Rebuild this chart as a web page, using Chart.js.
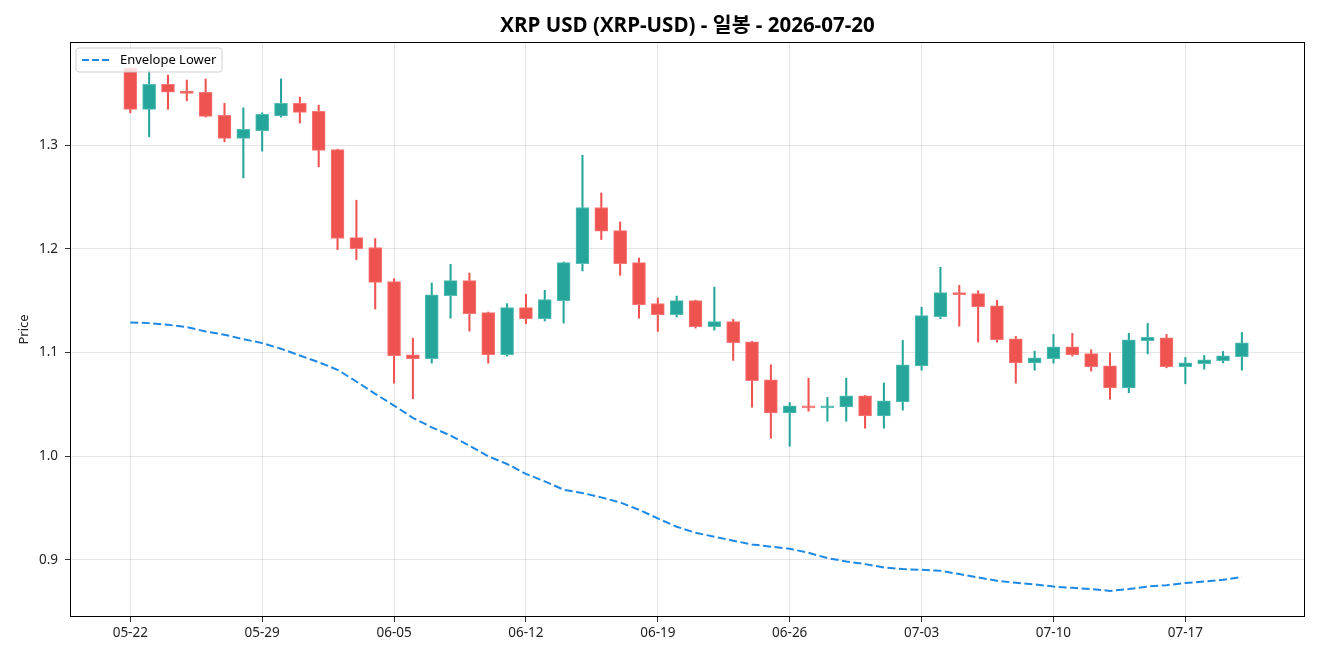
<!DOCTYPE html>
<html>
<head>
<meta charset="utf-8">
<script src="https://cdn.jsdelivr.net/npm/chart.js@4.4.1/dist/chart.umd.min.js"></script>
<style>
  html, body { margin: 0; padding: 0; background: #ffffff; }
  #wrap { width: 1320px; height: 660px; }
</style>
</head>
<body>
<div id="wrap"><canvas id="c" width="1320" height="660"></canvas></div>
<script>
const dates = [
  '05-22','05-23','05-24','05-25','05-26','05-27','05-28','05-29','05-30','05-31',
  '06-01','06-02','06-03','06-04','06-05','06-06','06-07','06-08','06-09','06-10',
  '06-11','06-12','06-13','06-14','06-15','06-16','06-17','06-18','06-19','06-20',
  '06-21','06-22','06-23','06-24','06-25','06-26','06-27','06-28','06-29','06-30',
  '07-01','07-02','07-03','07-04','07-05','07-06','07-07','07-08','07-09','07-10',
  '07-11','07-12','07-13','07-14','07-15','07-16','07-17','07-18','07-19','07-20'
];
const openP = [
  1.3743,1.3345,1.3586,1.3522,1.3510,1.3287,1.3065,1.3139,1.3283,1.3403,
  1.3326,1.2958,1.2108,1.2012,1.1683,1.0978,1.0939,1.1548,1.1693,1.1384,
  1.0978,1.1432,1.1326,1.1500,1.1857,1.2398,1.2176,1.1867,1.1471,1.1364,
  1.1500,1.1249,1.1297,1.1103,1.0736,1.0417,1.0485,1.0466,1.0475,1.0581,
  1.0388,1.0523,1.0871,1.1345,1.1577,1.1567,1.1451,1.1132,1.0900,1.0939,
  1.1055,1.0988,1.0871,1.0659,1.1113,1.1142,1.0862,1.0891,1.0920,1.0959
];
const highP = [
  1.3743,1.3725,1.3676,1.3628,1.3638,1.3403,1.3360,1.3312,1.3638,1.3464,
  1.3386,1.2962,1.2469,1.2099,1.1712,1.1138,1.1670,1.1850,1.1766,1.1390,
  1.1471,1.1560,1.1599,1.1873,1.2903,1.2539,1.2259,1.1911,1.1525,1.1544,
  1.1505,1.1631,1.1319,1.1107,1.0881,1.0517,1.0752,1.0568,1.0752,1.0585,
  1.0705,1.1116,1.1435,1.1821,1.1647,1.1596,1.1502,1.1155,1.1013,1.1174,
  1.1184,1.1026,1.0997,1.1184,1.1280,1.1174,1.0952,1.0971,1.1010,1.1193
];
const lowP = [
  1.3312,1.3080,1.3345,1.3428,1.3270,1.3032,1.2684,1.2942,1.3270,1.3213,
  1.2790,1.1992,1.1896,1.1419,1.0704,1.0553,1.0897,1.1331,1.1206,1.0897,
  1.0964,1.1277,1.1303,1.1283,1.1786,1.2089,1.1744,1.1331,1.1203,1.1341,
  1.1235,1.1216,1.0923,1.0472,1.0172,1.0095,1.0433,1.0336,1.0336,1.0269,
  1.0269,1.0443,1.0829,1.1326,1.1254,1.1100,1.1100,1.0704,1.0829,1.0897,
  1.0965,1.0820,1.0549,1.0611,1.0987,1.0852,1.0698,1.0839,1.0900,1.0829
];
const closeP = [
  1.3345,1.3586,1.3510,1.3500,1.3277,1.3065,1.3152,1.3297,1.3403,1.3316,
  1.2949,1.2099,1.2002,1.1676,1.0968,1.0939,1.1557,1.1693,1.1374,1.0978,
  1.1432,1.1326,1.1509,1.1867,1.2398,1.2169,1.1857,1.1461,1.1364,1.1500,
  1.1249,1.1297,1.1094,1.0727,1.0417,1.0485,1.0466,1.0485,1.0581,1.0388,
  1.0533,1.0881,1.1355,1.1577,1.1558,1.1442,1.1123,1.0900,1.0949,1.1055,
  1.0978,1.0862,1.0659,1.1123,1.1145,1.0862,1.0900,1.0930,1.0968,1.1094
];
const envelopeLower = [
  1.1290,1.1283,1.1267,1.1244,1.1203,1.1171,1.1129,1.1090,1.1036,1.0971,
  1.0906,1.0833,1.0720,1.0601,1.0488,1.0369,1.0278,1.0198,1.0101,0.9998,
  0.9924,0.9828,0.9757,0.9676,0.9644,0.9602,0.9553,0.9483,0.9399,0.9319,
  0.9261,0.9222,0.9184,0.9148,0.9126,0.9106,0.9068,0.9016,0.8984,0.8958,
  0.8926,0.8910,0.8903,0.8894,0.8862,0.8830,0.8797,0.8778,0.8762,0.8742,
  0.8729,0.8717,0.8700,0.8717,0.8742,0.8755,0.8775,0.8790,0.8807,0.8833
];
const xTickIdx = [0, 7, 14, 21, 28, 35, 42, 49, 56];
const yTicks = [0.9, 1.0, 1.1, 1.2, 1.3];
const titleText = 'XRP USD (XRP-USD) - 일봉 - 2026-07-20';
const yAxisLabel = 'Price';
const seriesLabel = 'Envelope Lower';

const UP = '#26a69a', DOWN = '#ef5350';
const FONT = "'Noto Sans', 'Noto Sans CJK KR', 'DejaVu Sans', sans-serif";
const TITLE_FONT = "'Open Sans', 'Noto Sans CJK KR', 'DejaVu Sans', sans-serif";

const isUp = dates.map((d, i) => closeP[i] >= openP[i]);
const bodyData = dates.map((d, i) => ({ x: i, y: [openP[i], closeP[i]] }));
const wickData = dates.map((d, i) => ({ x: i, y: [lowP[i], highP[i]] }));
const envData = dates.map((d, i) => ({ x: i, y: envelopeLower[i] }));
const bodyColors = isUp.map(u => u ? 'rgba(38,166,154,1)' : 'rgba(239,83,80,1)');
const bodyBorders = isUp.map(u => u ? 'rgba(84,190,180,1)' : 'rgba(245,120,118,1)');
const wickColors = isUp.map(u => u ? UP : DOWN);

const decoPlugin = {
  id: 'deco',
  beforeDraw(chart) {
    const ctx = chart.ctx;
    ctx.save();
    ctx.fillStyle = '#ffffff';
    ctx.fillRect(0, 0, chart.width, chart.height);
    ctx.restore();
  },
  afterDraw(chart) {
    const ctx = chart.ctx;
    const a = chart.chartArea;
    ctx.save();
    // frame
    ctx.strokeStyle = '#000000';
    ctx.lineWidth = 1;
    ctx.strokeRect(Math.round(a.left) + 0.5, Math.round(a.top) + 0.5,
                   Math.round(a.right - a.left) - 1, Math.round(a.bottom - a.top) - 1);
    // title
    ctx.fillStyle = '#000000';
    ctx.font = 'bold 20.5px ' + TITLE_FONT;
    ctx.textAlign = 'center';
    ctx.textBaseline = 'middle';
    ctx.fillText(titleText, (a.left + a.right) / 2, 26);
    // legend
    const lx = a.left + 6, ly = a.top + 6, lw = 146, lh = 24, r = 3;
    ctx.beginPath();
    ctx.moveTo(lx + r, ly);
    ctx.lineTo(lx + lw - r, ly);
    ctx.quadraticCurveTo(lx + lw, ly, lx + lw, ly + r);
    ctx.lineTo(lx + lw, ly + lh - r);
    ctx.quadraticCurveTo(lx + lw, ly + lh, lx + lw - r, ly + lh);
    ctx.lineTo(lx + r, ly + lh);
    ctx.quadraticCurveTo(lx, ly + lh, lx, ly + lh - r);
    ctx.lineTo(lx, ly + r);
    ctx.quadraticCurveTo(lx, ly, lx + r, ly);
    ctx.closePath();
    ctx.fillStyle = 'rgba(255,255,255,0.8)';
    ctx.fill();
    ctx.strokeStyle = 'rgba(204,204,204,0.9)';
    ctx.lineWidth = 1;
    ctx.stroke();
    ctx.beginPath();
    ctx.setLineDash([7, 3]);
    ctx.strokeStyle = '#1e88e5';
    ctx.lineWidth = 2;
    ctx.moveTo(lx + 6, ly + lh / 2);
    ctx.lineTo(lx + 34, ly + lh / 2);
    ctx.stroke();
    ctx.setLineDash([]);
    ctx.fillStyle = '#000000';
    ctx.font = '13px ' + FONT;
    ctx.textAlign = 'left';
    ctx.textBaseline = 'middle';
    ctx.fillText(seriesLabel, lx + 44, ly + lh / 2 + 0.5);
    ctx.restore();
  }
};

new Chart(document.getElementById('c'), {
  type: 'bar',
  data: {
    datasets: [
      {
        type: 'line',
        label: seriesLabel,
        data: envData,
        borderColor: '#1e88e5',
        borderWidth: 2,
        borderDash: [8, 3.5],
        pointRadius: 0,
        tension: 0,
        fill: false
      },
      {
        type: 'bar',
        label: 'body',
        data: bodyData,
        backgroundColor: bodyColors,
        borderColor: bodyBorders,
        borderWidth: 1,
        borderSkipped: false,
        barThickness: 13,
        grouped: false
      },
      {
        type: 'bar',
        label: 'wick',
        data: wickData,
        backgroundColor: wickColors,
        borderWidth: 0,
        barThickness: 1.4,
        grouped: false
      }
    ]
  },
  options: {
    responsive: false,
    animation: false,
    devicePixelRatio: 1,
    layout: { padding: { top: 42, right: 15, left: 0, bottom: 0 } },
    plugins: {
      legend: { display: false },
      title: { display: false },
      tooltip: { enabled: false }
    },
    scales: {
      x: {
        type: 'linear',
        min: -3.2,
        max: 62.35,
        offset: false,
        afterFit(s) { s.height = 43; },
        afterBuildTicks(s) { s.ticks = xTickIdx.map(v => ({ value: v })); },
        ticks: {
          autoSkip: false,
          maxRotation: 0,
          color: '#222222',
          font: { family: FONT, size: 13.5 },
          padding: 3,
          callback: (v) => dates[v] !== undefined ? dates[v] : ''
        },
        grid: {
          color: 'rgba(0,0,0,0.1)',
          tickColor: '#333333',
          tickLength: 5,
          offset: false
        },
        border: { display: false }
      },
      y: {
        type: 'linear',
        min: 0.8448,
        max: 1.3995,
        afterFit(s) { s.width = 70; },
        afterBuildTicks(s) { s.ticks = yTicks.map(v => ({ value: v })); },
        ticks: {
          color: '#222222',
          font: { family: FONT, size: 13.5 },
          padding: 7,
          callback: (v) => v.toFixed(1)
        },
        grid: {
          color: 'rgba(0,0,0,0.1)',
          tickColor: '#333333',
          tickLength: 5
        },
        border: { display: false },
        title: {
          display: true,
          text: yAxisLabel,
          color: '#222222',
          font: { family: FONT, size: 13 },
          padding: { top: 16, bottom: 0 }
        }
      }
    }
  },
  plugins: [decoPlugin]
});
</script>
</body>
</html>
